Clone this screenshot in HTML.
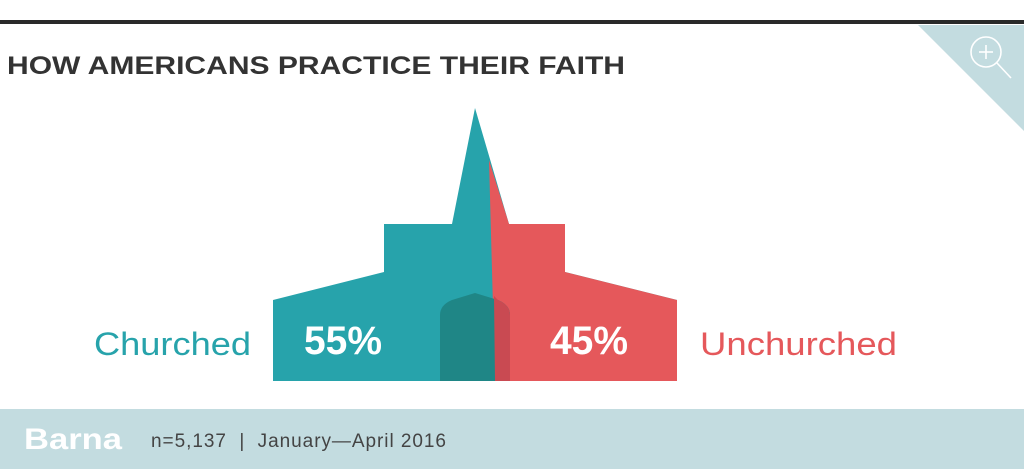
<!DOCTYPE html>
<html><head><meta charset="utf-8"><style>
html,body{margin:0;padding:0;background:#fff}
body{width:1024px;height:469px;overflow:hidden}
</style></head><body>
<svg width="1024" height="469" viewBox="0 0 1024 469" xmlns="http://www.w3.org/2000/svg" font-family="Liberation Sans, sans-serif">
<rect width="1024" height="469" fill="#fff"/>
<rect x="0" y="20" width="1024" height="4" fill="#2a2a2a"/>
<polygon points="918,25 1024,25 1024,131" fill="#c3dce0"/>
<circle cx="986" cy="52" r="15" fill="none" stroke="#fff" stroke-width="1.6"/>
<line x1="997" y1="63" x2="1011" y2="78" stroke="#fff" stroke-width="1.6"/>
<line x1="979" y1="52" x2="993" y2="52" stroke="#fff" stroke-width="1.6"/>
<line x1="986" y1="45" x2="986" y2="59" stroke="#fff" stroke-width="1.6"/>
<text x="7" y="74" font-size="25" font-weight="bold" fill="#333" textLength="618" lengthAdjust="spacingAndGlyphs">HOW AMERICANS PRACTICE THEIR FAITH</text>
<polygon points="475,108 509,224 565,224 565,272 677,300 677,381 273,381 273,300 384,272 384,224 452,224" fill="#27a3ab"/>
<polygon points="489,160 509,224 565,224 565,272 677,300 677,381 495,381" fill="#e5585b"/>
<path d="M440,381 L440,315 Q440,305 452,300 L475,293 L498,300 Q510,305 510,315 L510,381 Z" fill="#1f8686"/>
<path d="M494,296 L498,300 Q510,305 510,315 L510,381 L495,381 Z" fill="#c94a52"/>
<text x="304" y="354" font-size="40" font-weight="bold" fill="#fff" textLength="78" lengthAdjust="spacingAndGlyphs">55%</text>
<text x="550" y="354" font-size="40" font-weight="bold" fill="#fff" textLength="78" lengthAdjust="spacingAndGlyphs">45%</text>
<text x="94" y="355" font-size="32" fill="#27a3ab" textLength="157" lengthAdjust="spacingAndGlyphs">Churched</text>
<text x="700" y="355" font-size="32" fill="#e5585b" textLength="197" lengthAdjust="spacingAndGlyphs">Unchurched</text>
<rect x="0" y="409" width="1024" height="60" fill="#c3dce0"/>
<text x="24" y="449" font-size="30" font-weight="bold" fill="#fff" textLength="98" lengthAdjust="spacingAndGlyphs">Barna</text>
<text x="151" y="447" font-size="19" fill="#444" textLength="295" lengthAdjust="spacing" xml:space="preserve">n=5,137  |  January—April 2016</text>
</svg>
</body></html>
